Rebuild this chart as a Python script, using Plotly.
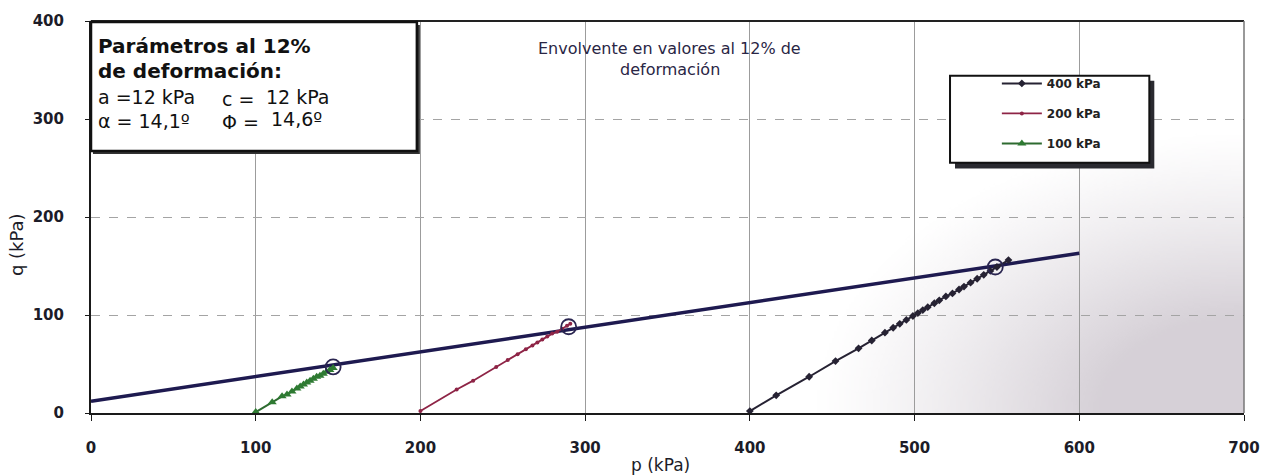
import base64
import struct
import zlib

import numpy as np
import plotly.graph_objects as go

# Stress paths (p, q) for the three confining pressures, in kPa
p_400 = [400, 416, 436, 452, 466, 474, 482, 487, 491, 495, 499, 502, 505, 508,
         512, 515, 519, 523, 527, 530, 534, 538, 542, 546, 550, 557]
q_400 = [2, 18, 37, 53, 66, 74, 82, 87, 91, 95, 99, 102, 105, 108,
         112, 115, 119, 122, 126, 129, 133, 137, 141, 145, 149, 156]

p_200 = [200, 222, 232, 246, 253, 259, 264, 268, 271, 274, 277, 280, 283, 286, 289, 291]
q_200 = [2, 24, 33, 47, 54, 60, 65, 69, 72, 75, 78, 81, 83, 86, 89, 91]

p_100 = [100, 110, 116, 119, 122, 125, 127, 129, 131, 133, 135, 137, 139, 141, 143, 145, 147]
q_100 = [1, 11, 17, 19, 22, 25, 27, 29, 31, 33, 35, 37, 38, 40, 42, 44, 46]

# Failure envelope at 12 % strain (a = 12 kPa, alpha = 14.1 deg)
env_p = [0, 600]
env_q = [12, 163]

# Points at 12 % strain on each path
pt12_p = [147, 290, 549]
pt12_q = [47, 88, 149]

series_names = ["400 kPa", "200 kPa", "100 kPa"]
x_ticks = [0, 100, 200, 300, 400, 500, 600, 700]
y_ticks = [0, 100, 200, 300, 400]

FONT = "DejaVu Sans"
W, H = 1272, 475
L, R, T, B = 91, 24, 12, 62
PW, PH = W - L - R, H - T - B


def px(x):
    return (x - L) / PW


def py(y):
    return (H - B - y) / PH


def png_uri(rgba):
    h, w, _ = rgba.shape
    raw = b"".join(b"\x00" + rgba[i].tobytes() for i in range(h))

    def chunk(tag, data):
        return (struct.pack(">I", len(data)) + tag + data
                + struct.pack(">I", zlib.crc32(tag + data) & 0xFFFFFFFF))

    png = (b"\x89PNG\r\n\x1a\n"
           + chunk(b"IHDR", struct.pack(">IIBBBBB", w, h, 8, 6, 0, 0, 0))
           + chunk(b"IDAT", zlib.compress(raw, 9))
           + chunk(b"IEND", b""))
    return "data:image/png;base64," + base64.b64encode(png).decode()


# Soft grey shading toward the lower-right corner of the chart
gw, gh = 200, 120
u = np.linspace(0, 1, gw)[None, :]
v = np.linspace(0, 1, gh)[:, None]
d = np.sqrt(((1 - u) / 0.9) ** 2 + ((1 - v) / 1.0) ** 2)
alpha = np.clip((1 - d) * 1.5, 0, 1) ** 1.2 * 0.55
img = np.zeros((gh, gw, 4), dtype=np.uint8)
img[..., 0] = 180
img[..., 1] = 170
img[..., 2] = 182
img[..., 3] = (alpha * 255).astype(np.uint8)
shade_uri = png_uri(img)

fig = go.Figure()

fig.add_trace(go.Scatter(
    x=env_p, y=env_q, mode="lines", showlegend=False, hoverinfo="skip",
    line=dict(color="#1e1a50", width=3.5)))

fig.add_trace(go.Scatter(
    x=p_400, y=q_400, name=series_names[0], mode="lines+markers",
    legendgroup="a",
    line=dict(color="#262233", width=2),
    marker=dict(symbol="diamond", size=6, color="#262233")))

fig.add_trace(go.Scatter(
    x=p_200, y=q_200, name=series_names[1], mode="lines+markers",
    legendgroup="b",
    line=dict(color="#8e2446", width=1.8),
    marker=dict(symbol="circle", size=4, color="#8e2446")))

fig.add_trace(go.Scatter(
    x=p_100, y=q_100, name=series_names[2], mode="lines+markers",
    legendgroup="c",
    line=dict(color="#2e6b30", width=2),
    marker=dict(symbol="triangle-up", size=8, color="#2e7a32")))

fig.add_trace(go.Scatter(
    x=pt12_p, y=pt12_q, mode="markers", showlegend=False, hoverinfo="skip",
    marker=dict(symbol="circle-open", size=15,
                line=dict(color="#2a2550", width=1.8), color="#2a2550")))

shapes = [
    # plot frame: dark top edge, grey right edge
    dict(type="line", xref="paper", yref="paper", x0=0, x1=1, y0=1, y1=1,
         line=dict(color="#222", width=2)),
    dict(type="line", xref="paper", yref="paper", x0=1, x1=1, y0=0, y1=1,
         line=dict(color="#777", width=1.5)),
    # parameter box
    dict(type="rect", xref="paper", yref="paper", layer="above",
         x0=px(93), x1=px(421), y0=py(148), y1=py(16),
         fillcolor="#333", line=dict(width=0)),
    dict(type="rect", xref="paper", yref="paper", layer="above",
         x0=px(91), x1=px(418), y0=py(145), y1=py(13),
         fillcolor="white", line=dict(color="#111", width=2.5)),
    # legend box with drop shadow
    dict(type="rect", xref="paper", yref="paper", layer="above",
         x0=px(958), x1=px(1158), y0=py(163), y1=py(73),
         fillcolor="#2a2a30", line=dict(width=0)),
    dict(type="rect", xref="paper", yref="paper", layer="above",
         x0=px(953), x1=px(1153), y0=py(157), y1=py(68),
         fillcolor="white", line=dict(color="#111", width=2)),
]

box_font = dict(family=FONT, size=19, color="#111")
box_bold = dict(family=FONT, size=20, color="#111", weight="bold")


def note(text, x, y, font, xanchor="left"):
    return dict(text=text, xref="paper", yref="paper", x=px(x), y=py(y),
                xanchor=xanchor, yanchor="middle", showarrow=False, font=font)


annotations = [
    note("Parámetros al 12%", 96, 38, box_bold),
    note("de deformación:", 96, 63, box_bold),
    note("a =12 kPa", 96, 90, box_font),
    note("c =", 220, 92, box_font),
    note("12 kPa", 265, 90, box_font),
    note("α = 14,1º", 96, 114, box_font),
    note("Φ =", 220, 115, box_font),
    note("14,6º", 270, 112, box_font),
    note("Envolvente en valores al 12% de", 672, 40,
         dict(family=FONT, size=16, color="#2a2645"), xanchor="center"),
    note("deformación", 672, 62,
         dict(family=FONT, size=16, color="#2a2645"), xanchor="center"),
    note("p (kPa)", 662, 466, dict(family=FONT, size=17, color="#1c1c28"),
         xanchor="center"),
    dict(text="q (kPa)", xref="paper", yref="paper", x=px(17), y=py(241),
         xanchor="center", yanchor="middle", textangle=-90, showarrow=False,
         font=dict(family=FONT, size=18, color="#1c1c28")),
]

tick_font = dict(family=FONT, size=15, color="#1c1c28", weight="bold")

fig.update_layout(
    width=W, height=H,
    margin=dict(l=L, r=R, t=T, b=B),
    paper_bgcolor="white",
    plot_bgcolor="rgba(0,0,0,0)",
    shapes=shapes,
    annotations=annotations,
    images=[dict(source=shade_uri, xref="paper", yref="paper",
                 x=px(760), y=py(120), sizex=(W - R - 760) / PW,
                 sizey=(H - B - 120) / PH, sizing="stretch",
                 xanchor="left", yanchor="top", layer="below")],
    legend=dict(x=px(1000), y=py(61), xanchor="left", yanchor="top",
                bgcolor="rgba(0,0,0,0)", borderwidth=0,
                traceorder="grouped", tracegroupgap=11, itemwidth=40,
                font=dict(family=FONT, size=12, color="#222", weight="bold")),
    xaxis=dict(range=[0, 700], tickvals=x_ticks, ticktext=[str(t) for t in x_ticks],
               showgrid=True, gridcolor="#9c9c9c", gridwidth=1,
               showline=True, linecolor="#1a1a1a", linewidth=2,
               ticks="outside", ticklen=6, tickcolor="#1a1a1a",
               ticklabelstandoff=14, tickfont=tick_font, zeroline=False),
    yaxis=dict(range=[0, 400], tickvals=y_ticks, ticktext=[str(t) for t in y_ticks],
               showgrid=True, gridcolor="#a4a4a4", gridwidth=1, griddash="dash",
               showline=True, linecolor="#1a1a1a", linewidth=2,
               ticks="outside", ticklen=4, tickcolor="#1a1a1a",
               ticklabelstandoff=18, tickfont=tick_font, zeroline=False),
    showlegend=True,
)

fig.write_html("out.html")
